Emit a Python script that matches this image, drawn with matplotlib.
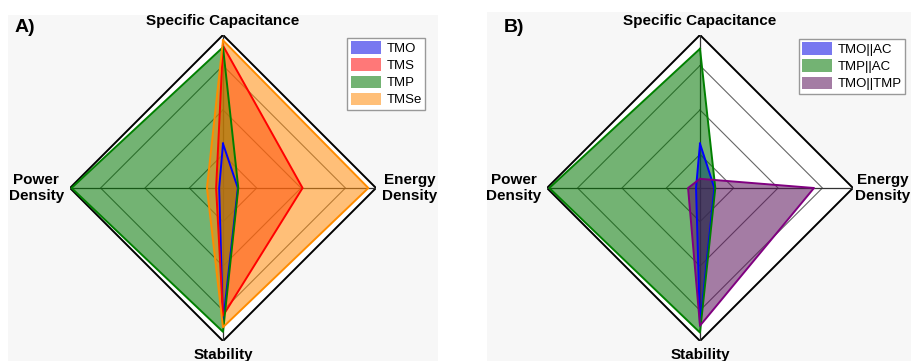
import numpy as np
import matplotlib
matplotlib.use("Agg")
import matplotlib.pyplot as plt
from matplotlib.patches import Rectangle

plt.rcParams['font.family'] = ['Liberation Sans', 'DejaVu Sans']

# ---- data ----
categories = ["Specific Capacitance", "Energy Density", "Stability", "Power Density"]
cat_labels = ["Specific Capacitance", "Energy\nDensity", "Stability", "Power\nDensity"]

seriesA_names = ["TMO", "TMS", "TMP", "TMSe"]
TMO = [0.29, 0.097, 0.88, 0.025]
TMS = [0.93, 0.52, 0.835, 0.045]
TMP = [0.92, 0.10, 0.94, 0.99]
TMSe = [0.965, 0.95, 0.91, 0.105]
seriesA = [TMO, TMS, TMP, TMSe]
fillA = ["#0a0ae4", "#ff0a0a", "#007600", "#ff8c0a"]
lineA = ["#0000ff", "#ff0000", "#008000", "#ff8c00"]

seriesB_names = ["TMO||AC", "TMP||AC", "TMO||TMP"]
TMO_AC = [0.29, 0.094, 0.90, 0.026]
TMP_AC = [0.91, 0.10, 0.945, 0.985]
TMO_TMP = [0.06, 0.745, 0.90, 0.078]
seriesB = [TMO_AC, TMP_AC, TMO_TMP]
fillB = ["#0a0ae4", "#007600", "#5a105a"]
lineB = ["#0000ff", "#008000", "#800080"]

grid_levels = [0.22, 0.51, 0.80]
outer_level = 1.0

W, H = 911, 361
fig = plt.figure(figsize=(W / 100, H / 100), dpi=100)
fig.patch.set_facecolor("white")

# light grey panel backgrounds
fig.patches.append(Rectangle((8 / W, 0), (438 - 8) / W, 1 - 15 / H,
                             transform=fig.transFigure, facecolor="#f7f7f7",
                             edgecolor="none", zorder=-5))
fig.patches.append(Rectangle((487 / W, 0), (911 - 487) / W, 1 - 12 / H,
                             transform=fig.transFigure, facecolor="#f7f7f7",
                             edgecolor="none", zorder=-5))

theta = np.deg2rad([0, 90, 180, 270])
theta_c = np.append(theta, theta[0])
ALPHA = 0.55


def radar(ax, series, names, fills, lines, legend_anchor, right_pad=6):
    ax.set_theta_zero_location("N")
    ax.set_theta_direction(-1)
    ax.set_ylim(0, 1.0)
    ax.grid(False)
    ax.spines["polar"].set_visible(False)
    ax.set_xticks([])
    ax.set_yticks([])
    ax.set_facecolor("none")
    # white interior
    ax.fill(theta_c, [outer_level] * 5, color="white", zorder=0.5)
    # grid diamonds
    for g in grid_levels:
        ax.plot(theta_c, [g] * 5, color="#666666", lw=0.8, zorder=1)
    ax.plot(theta_c, [outer_level] * 5, color="black", lw=1.4, zorder=1)
    for t in theta:
        ax.plot([t, t], [0, outer_level], color="#333333", lw=0.9, zorder=1)
    handles = []
    for vals, name, fc, lc in zip(series, names, fills, lines):
        v = list(vals) + [vals[0]]
        h = ax.fill(theta_c, v, facecolor=fc, alpha=ALPHA, edgecolor="none",
                    label=name, zorder=2)[0]
        ax.plot(theta_c, v, color=lc, lw=1.4, zorder=3)
        handles.append(h)
    # axis labels
    offs = [((0, 7), "center", "bottom"), ((right_pad, 0), "left", "center"),
            ((0, -7), "center", "top"), ((-6, 0), "right", "center")]
    for t, lab, (o, ha, va) in zip(theta, cat_labels, offs):
        ax.annotate(lab, xy=(t, outer_level), xytext=o, textcoords="offset pixels",
                    ha=ha, va=va, fontsize=11, fontweight="bold",
                    multialignment="center", annotation_clip=False)
    leg = fig.legend(handles=handles, loc="upper right",
                     bbox_to_anchor=legend_anchor, bbox_transform=fig.transFigure,
                     fontsize=9.5, frameon=True, fancybox=False,
                     edgecolor="#999999", framealpha=1, borderpad=0.25,
                     labelspacing=0.25, handlelength=2.3, handleheight=1.1,
                     handletextpad=0.4, borderaxespad=0)
    leg.get_frame().set_linewidth(1.0)


R = 153
axA = fig.add_axes([(223 - R) / W, (H - 188 - R) / H, 2 * R / W, 2 * R / H],
                   projection="polar")
axB = fig.add_axes([(700 - R) / W, (H - 188 - R) / H, 2 * R / W, 2 * R / H],
                   projection="polar")

radar(axA, seriesA, seriesA_names, fillA, lineA, (425 / W, 1 - 38 / H))
radar(axB, seriesB, seriesB_names, fillB, lineB, (905 / W, 1 - 39 / H),
      right_pad=2)

fig.text(15 / W, 1 - 28 / H, "A)", fontsize=14, fontweight="bold",
         ha="left", va="center")
fig.text(504 / W, 1 - 28 / H, "B)", fontsize=14, fontweight="bold",
         ha="left", va="center")

fig.savefig("out.png", dpi=100)
